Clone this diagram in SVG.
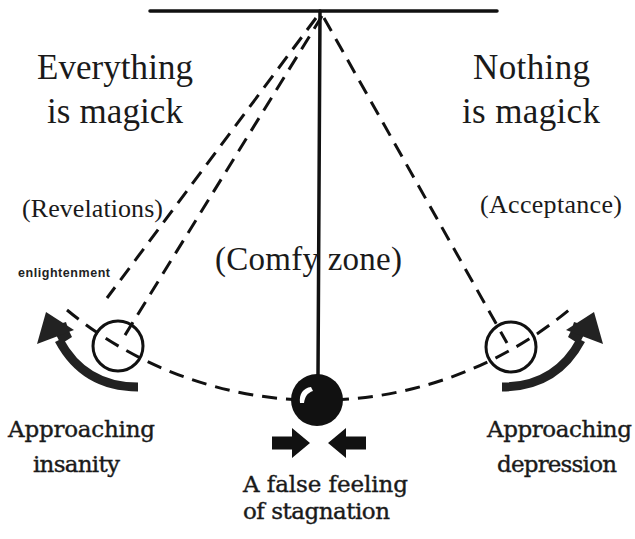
<svg xmlns="http://www.w3.org/2000/svg" width="635" height="539" viewBox="0 0 635 539">
<style>
.bg{fill:#fff}
.solid{stroke:#111;stroke-width:3.5;fill:none;stroke-linecap:round}
.dash{stroke:#111;stroke-width:3;fill:none;stroke-dasharray:15 9}
.ring{stroke:#111;stroke-width:3;fill:none}
.t1{font-family:"Liberation Serif","Times New Roman",serif;fill:#1a1a1a}
.t2{font-family:"DejaVu Serif","Liberation Serif",serif;fill:#1a1a1a;stroke:#1a1a1a;stroke-width:0.4}
.t3{font-family:"Liberation Sans",Arial,sans-serif;font-weight:bold;fill:#222}
</style>
<defs>
<g id="curved-arrow">
<path d="M138 387 Q84 387 59 340" stroke="#222" stroke-width="9" fill="none"/>
<path d="M61 344 Q55 334 53 326 L66 322 Q68 330 72 337 Z" fill="#222"/>
<polygon points="46,312 37,344 74,330" fill="#222"/>
</g>
<g id="push-arrow">
<polygon points="0,-6.5 20,-6.5 20,-15 38,0 20,15 20,6.5 0,6.5" fill="#111"/>
</g>
</defs>
<rect class="bg" x="0" y="0" width="635" height="539"/>
<g id="connectors">
<line class="solid" x1="150" y1="11" x2="497" y2="11"/>
<line class="solid" x1="320" y1="11" x2="318" y2="376"/>
<line class="dash" x1="316" y1="18" x2="107" y2="298"/>
<line class="dash" x1="322" y1="16" x2="122" y2="340"/>
<line class="dash" x1="324" y1="18" x2="507" y2="343"/>
<path class="dash" d="M67 310 A394 394 0 0 0 569 310"/>
</g>
<g id="left-bob"><circle class="ring" cx="118" cy="346" r="25"/></g>
<g id="right-bob"><circle class="ring" cx="511" cy="347" r="25"/></g>
<g id="ball">
<circle cx="317" cy="400" r="26" fill="#111"/>
<path d="M300 403 C299 394 303 388 311 387 L313 391 C307 393 305 397 304 403 Z" fill="#fff"/>
</g>
<g id="left-arrow"><use href="#curved-arrow"/></g>
<g id="right-arrow"><use href="#curved-arrow" transform="translate(640,0) scale(-1,1)"/></g>
<g id="squeeze">
<use href="#push-arrow" transform="translate(272,443)"/>
<use href="#push-arrow" transform="translate(366,443) scale(-1,1)"/>
</g>
<g id="labels">
<text class="t1" x="37" y="79" font-size="35" textLength="156">Everything</text>
<text class="t1" x="47" y="123" font-size="35" textLength="136">is magick</text>
<text class="t1" x="473" y="79" font-size="35" textLength="117">Nothing</text>
<text class="t1" x="462" y="123" font-size="35" textLength="138">is magick</text>
<text class="t1" x="22" y="217" font-size="26" textLength="141">(Revelations)</text>
<text class="t1" x="480" y="213" font-size="26" textLength="142">(Acceptance)</text>
<text class="t3" x="18" y="277" font-size="12.5" textLength="92">enlightenment</text>
<text class="t1" x="215" y="270" font-size="33" textLength="187">(Comfy zone)</text>
<text class="t2" x="8" y="437" font-size="23" textLength="147">Approaching</text>
<text class="t2" x="33" y="472" font-size="23" textLength="87">insanity</text>
<text class="t2" x="487" y="437" font-size="23" textLength="145">Approaching</text>
<text class="t2" x="497" y="472" font-size="23" textLength="120">depression</text>
<text class="t2" x="243" y="492" font-size="23" textLength="165">A false feeling</text>
<text class="t2" x="243" y="519" font-size="23" textLength="147">of stagnation</text>
</g>
</svg>
